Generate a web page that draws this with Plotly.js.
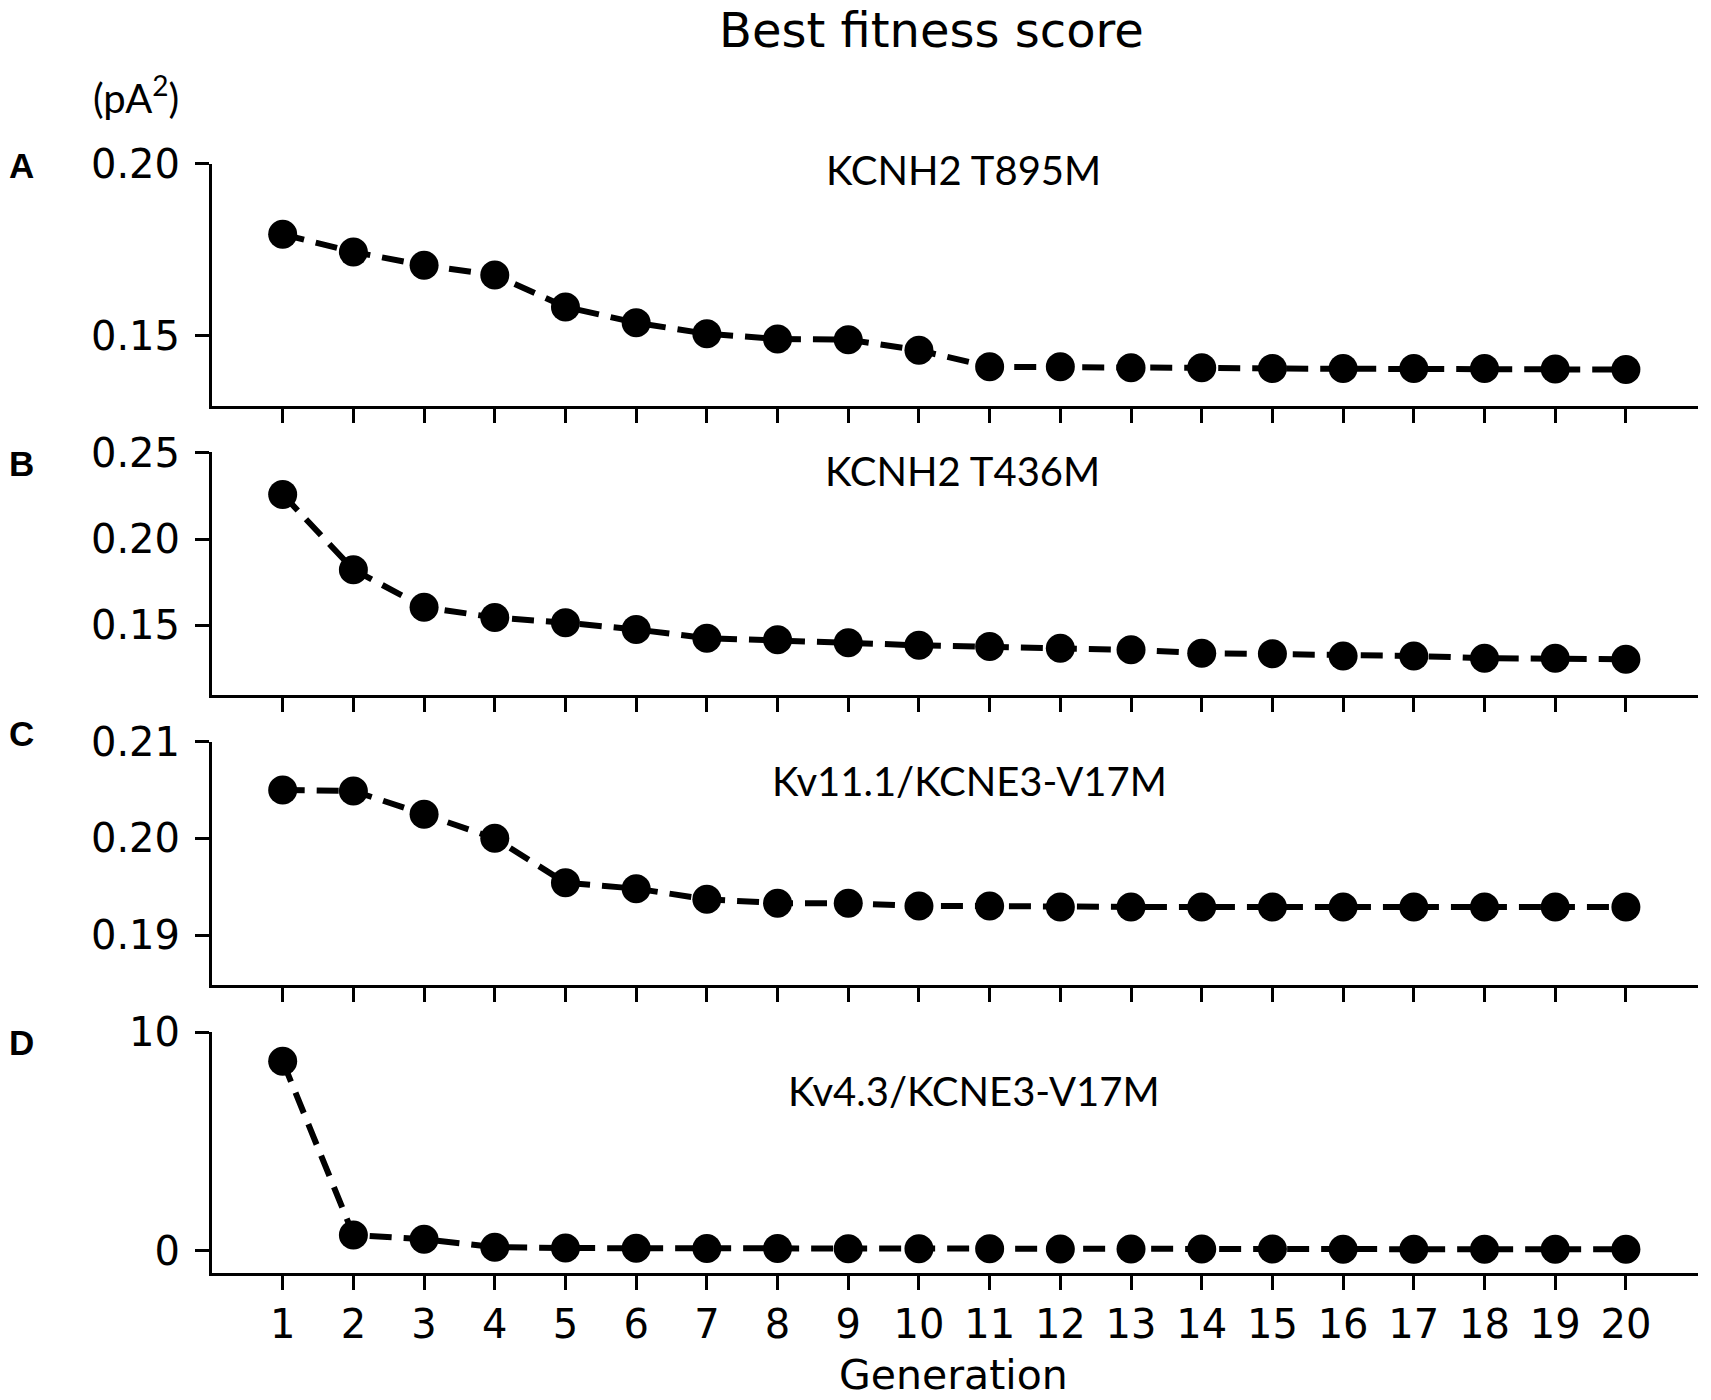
<!DOCTYPE html>
<html>
<head>
<meta charset="utf-8">
<script src="https://cdn.plot.ly/plotly-3.0.1.min.js"></script>
<style>
  html, body { margin: 0; padding: 0; background: #ffffff; }
  #chart { width: 1711px; height: 1400px; }
</style>
</head>
<body>
<div id="chart"></div>
<script>
(function () {
  // generations 1..20
  const generations = [1, 2, 3, 4, 5, 6, 7, 8, 9, 10, 11, 12, 13, 14, 15, 16, 17, 18, 19, 20];

  // best fitness score per generation (pA^2)
  const fitnessA = [0.1794, 0.1743, 0.1704, 0.1676, 0.1583, 0.1537, 0.1505, 0.1490, 0.1488, 0.1457,
    0.1409, 0.1409, 0.1406, 0.1406, 0.1404, 0.1404, 0.1404, 0.1404, 0.1403, 0.1401];
  const fitnessB = [0.2258, 0.1823, 0.1606, 0.1546, 0.1516, 0.1477, 0.1426, 0.1417, 0.1400, 0.1385,
    0.1378, 0.1369, 0.1359, 0.1340, 0.1336, 0.1324, 0.1324, 0.1311, 0.1311, 0.1305];
  const fitnessC = [0.2050, 0.2049, 0.2025, 0.2000, 0.1954, 0.1948, 0.1937, 0.1933, 0.1933, 0.1930,
    0.1930, 0.1929, 0.1929, 0.1929, 0.1929, 0.1929, 0.1929, 0.1929, 0.1929, 0.1929];
  const fitnessD = [8.68, 0.72, 0.52, 0.16, 0.12, 0.11, 0.10, 0.10, 0.09, 0.09,
    0.09, 0.08, 0.08, 0.08, 0.08, 0.07, 0.07, 0.07, 0.07, 0.07];

  const panelNames = ['KCNH2 T895M', 'KCNH2 T436M', 'Kv11.1/KCNE3-V17M', 'Kv4.3/KCNE3-V17M'];
  const panelLetters = ['A', 'B', 'C', 'D'];
  const yTicksA = [0.15, 0.20];
  const yTicksB = [0.15, 0.20, 0.25];
  const yTicksC = [0.19, 0.20, 0.21];
  const yTicksD = [0, 10];

  const W = 1711;
  const H = 1400;
  const INK = '#000000';
  const TICK_FONT = { family: 'DejaVu Sans, sans-serif', size: 40, color: INK };
  const LABEL_FONT = { family: 'Lato, Open Sans, sans-serif', size: 40, color: INK };

  // panel geometry in pixels: [top, bottom] of each axes box
  const boxes = [[163.5, 405.7], [451.7, 695], [741.7, 985], [1032.3, 1273.3]];
  const yRanges = [[0.1296, 0.2], [0.1098, 0.2505], [0.18483, 0.21], [-1.035, 10]];
  const yTicks = [yTicksA, yTicksB, yTicksC, yTicksD];
  const yFormats = ['.2f', '.2f', '.2f', 'd'];
  const series = [fitnessA, fitnessB, fitnessC, fitnessD];
  const letterY = [166, 464, 734, 1042];
  const nameXY = [[963, 170], [962, 471], [969, 781], [974, 1091]];

  const xDomain = [212 / W, 1698 / W];

  const traces = series.map((ys, i) => ({
    x: generations,
    y: ys,
    xaxis: i === 0 ? 'x' : 'x' + (i + 1),
    yaxis: i === 0 ? 'y' : 'y' + (i + 1),
    mode: 'lines+markers',
    line: { color: INK, width: 6, dash: '22px,12px' },
    marker: { color: INK, size: 29 },
    cliponaxis: false,
    hoverinfo: 'x+y',
    showlegend: false
  }));

  const layout = {
    width: W,
    height: H,
    margin: { l: 0, r: 0, t: 0, b: 0 },
    paper_bgcolor: '#ffffff',
    plot_bgcolor: '#ffffff',
    showlegend: false,
    annotations: []
  };

  boxes.forEach((box, i) => {
    const xKey = i === 0 ? 'xaxis' : 'xaxis' + (i + 1);
    const yKey = i === 0 ? 'yaxis' : 'yaxis' + (i + 1);
    const yName = i === 0 ? 'y' : 'y' + (i + 1);
    layout[xKey] = {
      domain: xDomain,
      anchor: yName,
      range: [0, 21.02],
      tickmode: 'array',
      tickvals: generations,
      ticktext: generations.map(String),
      showticklabels: i === 3,
      ticks: 'outside',
      ticklen: 14,
      tickwidth: 3,
      tickcolor: INK,
      ticklabelstandoff: 0,
      showline: true,
      linecolor: INK,
      linewidth: 3,
      showgrid: false,
      zeroline: false,
      tickfont: TICK_FONT
    };
    layout[yKey] = {
      domain: [1 - box[1] / H, 1 - box[0] / H],
      anchor: i === 0 ? 'x' : 'x' + (i + 1),
      range: yRanges[i],
      tickmode: 'array',
      tickvals: yTicks[i],
      tickformat: yFormats[i],
      ticks: 'outside',
      ticklen: 14,
      tickwidth: 3,
      tickcolor: INK,
      ticklabelstandoff: 7,
      showline: true,
      linecolor: INK,
      linewidth: 3,
      showgrid: false,
      zeroline: false,
      tickfont: TICK_FONT
    };

    layout.annotations.push({
      text: '<b>' + panelLetters[i] + '</b>',
      xref: 'paper', yref: 'paper',
      x: 21 / W, y: 1 - letterY[i] / H,
      xanchor: 'center', yanchor: 'middle',
      showarrow: false,
      font: { family: 'Liberation Sans, Arial, sans-serif', size: 35, color: INK }
    });
    layout.annotations.push({
      text: panelNames[i],
      xref: 'paper', yref: 'paper',
      x: nameXY[i][0] / W, y: 1 - nameXY[i][1] / H,
      xanchor: 'center', yanchor: 'middle',
      showarrow: false,
      font: LABEL_FONT
    });
  });

  layout.annotations.push({
    text: 'Best fitness score',
    xref: 'paper', yref: 'paper',
    x: 931 / W, y: 1 - 30 / H,
    xanchor: 'center', yanchor: 'middle',
    showarrow: false,
    font: { family: 'DejaVu Sans, sans-serif', size: 48, color: INK }
  });
  layout.annotations.push({
    text: '(pA<sup>2</sup>)',
    xref: 'paper', yref: 'paper',
    x: 136 / W, y: 1 - 95 / H,
    xanchor: 'center', yanchor: 'middle',
    showarrow: false,
    font: LABEL_FONT
  });
  layout.annotations.push({
    text: 'Generation',
    xref: 'paper', yref: 'paper',
    x: 953 / W, y: 1 - 1375 / H,
    xanchor: 'center', yanchor: 'middle',
    showarrow: false,
    font: { family: 'DejaVu Sans, sans-serif', size: 41, color: INK }
  });

  Plotly.newPlot('chart', traces, layout, { displayModeBar: false, responsive: false, staticPlot: true });
})();
</script>
</body>
</html>
